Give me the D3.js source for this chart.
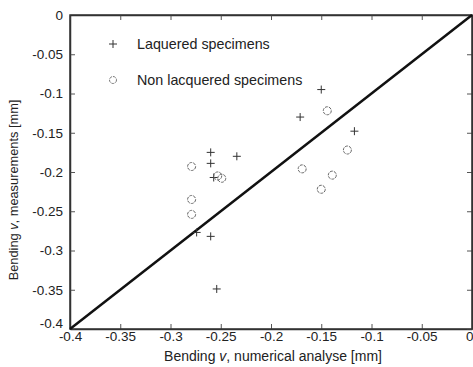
<!DOCTYPE html>
<html>
<head>
<meta charset="utf-8">
<script src="https://cdn.jsdelivr.net/npm/d3@7"></script>
<style>
  body { margin: 0; background: #fff; }
  svg text { font-family: "Liberation Sans", Arial, sans-serif; fill: #222; }
</style>
</head>
<body>
<svg id="chart" width="473" height="367"></svg>
<script>
// lacquered specimens: numerical (x) vs measured (y)
var lacqX = [-0.150, -0.171, -0.117, -0.260, -0.234, -0.260, -0.257, -0.274, -0.260, -0.254];
var lacqY = [-0.095, -0.130, -0.148, -0.175, -0.180, -0.189, -0.207, -0.277, -0.282, -0.349];

// non lacquered specimens
var nonX = [-0.144, -0.124, -0.279, -0.169, -0.139, -0.253, -0.249, -0.150, -0.279, -0.279];
var nonY = [-0.122, -0.172, -0.193, -0.196, -0.204, -0.205, -0.208, -0.222, -0.235, -0.254];

var tickVals = [-0.4, -0.35, -0.3, -0.25, -0.2, -0.15, -0.1, -0.05, 0];
var legendLabels = ["Laquered specimens", "Non lacquered specimens"];

function drawChart(){

	var margin = { top: 15, right: 1, bottom: 38, left: 70 };
	var width = 473 - margin.left - margin.right;
	var height = 367 - margin.top - margin.bottom;

	var svg = d3.select("#chart");
	var g = svg.append("g")
		.attr("transform", "translate(" + margin.left + "," + margin.top + ")");

	var x = d3.scaleLinear().domain([-0.4, 0]).range([0, width]);
	var y = d3.scaleLinear().domain([-0.4, 0]).range([height, 0]);
	var fmt = function(d){ return d === 0 ? "0" : String(+d.toFixed(2)); };

	// axes, matlab style ticks pointing inward
	var xAx = g.append("g")
		.attr("transform", "translate(0," + height + ")")
		.call(d3.axisBottom(x).tickValues(tickVals).tickFormat(fmt).tickSizeInner(-5).tickSizeOuter(0).tickPadding(5));
	var yAx = g.append("g")
		.call(d3.axisLeft(y).tickValues(tickVals).tickFormat(fmt).tickSizeInner(-5).tickSizeOuter(0).tickPadding(7));
	g.append("g")
		.call(d3.axisTop(x).tickValues(tickVals).tickFormat("").tickSizeInner(-5).tickSizeOuter(0));
	g.append("g")
		.attr("transform", "translate(" + width + ",0)")
		.call(d3.axisRight(y).tickValues(tickVals).tickFormat("").tickSizeInner(-5).tickSizeOuter(0));

	g.selectAll(".domain").attr("stroke", "#333").attr("stroke-width", 1.5);
	g.selectAll(".tick line").attr("stroke", "#555");
	g.selectAll(".tick text").style("font-size", "13.5px").attr("fill", "#222");
	yAx.selectAll(".tick text").filter(function(d){ return d === -0.4; }).attr("dy", "-0.1em");
	xAx.selectAll(".tick text").attr("dy", "0.55em");
	// last label sits at the window edge, keep it inside
	xAx.selectAll(".tick text").filter(function(d){ return d === 0; })
		.attr("text-anchor", "end").attr("x", 1);

	// box
	g.append("rect")
		.attr("width", width).attr("height", height)
		.attr("fill", "none").attr("stroke", "#333").attr("stroke-width", 1.5);

	// diagonal reference line y = x
	g.append("line")
		.attr("x1", x(-0.4)).attr("y1", y(-0.4))
		.attr("x2", x(0)).attr("y2", y(0))
		.attr("stroke", "#111").attr("stroke-width", 2.5);

	// lacquered: plus markers
	var lacq = lacqX.map(function(d, i){ return { x: d, y: lacqY[i] }; });
	g.selectAll(".plus")
		.data(lacq)
		.enter()
		.append("path")
		.attr("class", "plus")
		.attr("d", function(d){
			var cx = x(d.x), cy = y(d.y), s = 4;
			return "M" + (cx - s) + "," + cy + "H" + (cx + s) + "M" + cx + "," + (cy - s) + "V" + (cy + s);
		})
		.attr("stroke", "#333").attr("stroke-width", 1).attr("fill", "none");

	// non lacquered: circle markers
	var non = nonX.map(function(d, i){ return { x: d, y: nonY[i] }; });
	g.selectAll(".circ")
		.data(non)
		.enter()
		.append("circle")
		.attr("class", "circ")
		.attr("cx", function(d){ return x(d.x); })
		.attr("cy", function(d){ return y(d.y); })
		.attr("r", 4)
		.attr("fill", "none").attr("stroke", "#666").attr("stroke-width", 1)
		.attr("stroke-dasharray", "3,1");

	// legend
	var leg = g.append("g").attr("transform", "translate(43,29)");
	leg.append("path")
		.attr("d", "M-4,0H4M0,-4V4")
		.attr("stroke", "#333").attr("stroke-width", 1);
	leg.append("circle")
		.attr("cx", 0).attr("cy", 36).attr("r", 3.5)
		.attr("fill", "none").attr("stroke", "#777").attr("stroke-dasharray", "3,1");
	leg.selectAll(".legtext")
		.data(legendLabels)
		.enter()
		.append("text")
		.attr("x", 24)
		.attr("y", function(d, i){ return i * 36; })
		.attr("dy", "0.35em")
		.style("font-size", "14.3px")
		.text(function(d){ return d; });

	// axis titles
	svg.append("text")
		.attr("x", 273)
		.attr("y", 361)
		.attr("text-anchor", "middle")
		.style("font-size", "14px")
		.html("Bending <tspan font-style='italic'>v</tspan>, numerical analyse [mm]");
	svg.append("text")
		.attr("transform", "translate(18,190) rotate(-90)")
		.attr("text-anchor", "middle")
		.style("font-size", "12.8px")
		.html("Bending <tspan font-style='italic'>v</tspan>, measurements [mm]");

	return;
}

drawChart();
</script>
</body>
</html>
